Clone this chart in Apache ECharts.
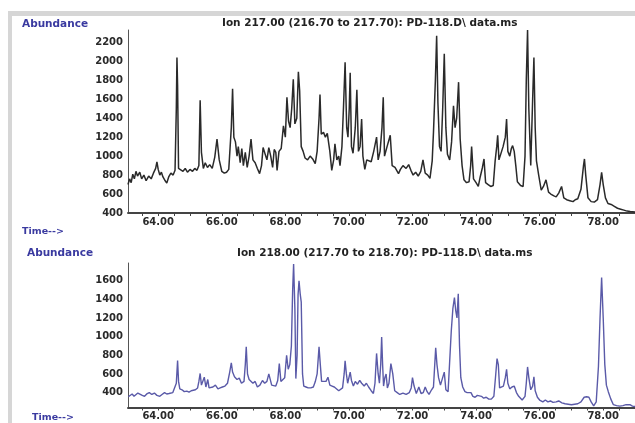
<!DOCTYPE html>
<html>
<head>
<meta charset="utf-8">
<script src="https://cdn.jsdelivr.net/npm/echarts@6/dist/echarts.min.js"></script>
<style>html,body{margin:0;padding:0;background:#fff}#c{width:635px;height:423px}</style>
</head>
<body>
<div id="c"></div>
<script>
// ---- Data ----
var topTitle = "Ion 217.00 (216.70 to 217.70): PD-118.D\\ data.ms";
var bottomTitle = "Ion 218.00 (217.70 to 218.70): PD-118.D\\ data.ms";
var xLabels = [64, 66, 68, 70, 72, 74, 76, 78];
var xTicks = [63.5,64,64.5,65,65.5,66,66.5,67,67.5,68,68.5,69,69.5,70,70.5,71,71.5,72,72.5,73,73.5,74,74.5,75,75.5,76,76.5,77,77.5,78,78.5];
var yLabelsTop = [400, 600, 800, 1000, 1200, 1400, 1600, 1800, 2000, 2200];
var yLabelsBottom = [400, 600, 800, 1000, 1200, 1400, 1600];

var timeTop = [63.05,63.10,63.15,63.20,63.25,63.30,63.35,63.42,63.48,63.55,63.62,63.70,63.78,63.85,63.92,63.96,64.00,64.05,64.10,64.15,64.22,64.27,64.33,64.40,64.47,64.53,64.57,64.59,64.61,64.64,64.70,64.78,64.85,64.92,65.00,65.08,65.15,65.22,65.28,65.32,65.36,65.42,65.48,65.55,65.62,65.70,65.78,65.85,65.92,66.00,66.08,66.15,66.22,66.30,66.34,66.38,66.43,66.48,66.52,66.58,66.63,66.68,66.74,66.80,66.86,66.92,66.98,67.05,67.12,67.19,67.25,67.30,67.36,67.42,67.48,67.54,67.60,67.65,67.70,67.74,67.80,67.87,67.94,68.00,68.05,68.10,68.15,68.20,68.25,68.30,68.36,68.41,68.45,68.50,68.56,68.62,68.70,68.78,68.86,68.94,69.00,69.06,69.09,69.13,69.20,69.26,69.32,69.40,69.46,69.52,69.56,69.62,69.68,69.72,69.78,69.83,69.88,69.93,69.97,70.01,70.04,70.08,70.13,70.20,70.25,70.30,70.35,70.40,70.44,70.50,70.56,70.62,70.70,70.78,70.87,70.92,70.98,71.04,71.08,71.12,71.20,71.30,71.36,71.45,71.56,71.62,71.70,71.80,71.88,71.95,72.02,72.10,72.18,72.26,72.33,72.40,72.48,72.55,72.62,72.66,72.72,72.76,72.80,72.85,72.90,72.95,73.00,73.05,73.10,73.17,73.23,73.29,73.34,73.39,73.45,73.50,73.56,73.62,73.70,73.78,73.83,73.86,73.92,74.00,74.07,74.13,74.20,74.25,74.30,74.38,74.46,74.54,74.60,74.65,74.68,74.72,74.78,74.85,74.92,74.96,75.00,75.06,75.11,75.15,75.20,75.25,75.30,75.40,75.48,75.54,75.58,75.62,75.66,75.72,75.78,75.82,75.86,75.90,75.97,76.05,76.12,76.20,76.28,76.35,76.45,76.52,76.60,76.69,76.76,76.85,76.95,77.05,77.12,77.20,77.30,77.38,77.41,77.45,77.52,77.62,77.72,77.82,77.90,77.95,78.00,78.07,78.15,78.25,78.35,78.45,78.55,78.65,78.75,78.85,79.00];
var abundTop = [700,760,720,810,760,840,790,830,760,800,740,790,760,820,870,940,860,800,830,780,740,715,780,820,800,850,1500,2040,1750,870,860,840,870,830,860,840,870,850,900,1590,1040,870,930,880,910,870,990,1180,960,840,820,830,860,1300,1710,1200,1150,1000,1100,930,1080,900,1040,880,1000,1180,960,930,870,815,900,1090,1100,960,1090,1000,880,1070,1040,850,1050,1080,1320,1200,1620,1370,1300,1500,1810,1340,1400,1890,1690,1100,1050,980,960,1000,970,920,1050,1400,1650,1230,1250,1200,1240,1050,850,960,1130,960,1000,900,1100,1520,1990,1300,1200,1500,1880,1100,1030,1300,1700,1050,1100,1390,1000,860,960,980,940,1050,1200,960,1050,1300,1620,1000,1100,1220,900,880,815,860,900,870,910,850,800,830,790,840,960,820,800,765,950,1250,1800,2270,1560,1100,1050,1500,2080,1300,1020,960,1150,1530,1300,1400,1780,1180,900,750,720,730,900,1100,760,720,680,780,880,970,720,700,680,690,950,1100,1220,960,980,1100,1200,1390,1050,1000,1080,1110,1050,900,730,690,680,1000,1800,2330,1500,900,1600,2040,1300,950,800,640,680,750,620,600,580,570,610,680,560,540,530,520,540,550,650,900,970,800,560,520,515,540,700,830,700,560,500,490,470,450,440,430,420,415,410];

var timeBottom = [63.06,63.12,63.18,63.24,63.30,63.36,63.42,63.50,63.57,63.64,63.72,63.80,63.88,63.96,64.05,64.12,64.20,64.27,64.34,64.40,64.46,64.52,64.57,64.61,64.64,64.68,64.75,64.82,64.90,64.97,65.04,65.10,65.17,65.24,65.28,65.32,65.36,65.40,65.45,65.50,65.56,65.60,65.66,65.72,65.80,65.88,65.95,66.02,66.10,66.18,66.25,66.30,66.34,66.40,66.48,66.55,66.62,66.70,66.74,66.77,66.81,66.86,66.92,66.98,67.05,67.12,67.20,67.28,67.35,67.42,67.48,67.52,67.57,67.62,67.70,67.76,67.81,67.86,67.92,67.98,68.04,68.09,68.14,68.19,68.23,68.26,68.30,68.33,68.37,68.40,68.43,68.47,68.50,68.54,68.58,68.65,68.72,68.80,68.88,68.94,69.00,69.06,69.10,69.14,69.20,69.28,69.34,69.40,69.47,69.54,69.60,69.68,69.74,69.80,69.85,69.88,69.92,69.96,70.00,70.04,70.08,70.14,70.20,70.27,70.34,70.40,70.48,70.55,70.62,70.70,70.77,70.82,70.87,70.92,70.96,71.00,71.03,71.06,71.09,71.13,71.17,71.21,71.26,71.32,71.38,71.44,71.52,71.60,71.70,71.80,71.90,71.96,72.00,72.05,72.12,72.20,72.27,72.34,72.40,72.46,72.52,72.60,72.66,72.70,72.73,72.77,72.82,72.88,72.94,73.00,73.05,73.12,73.17,73.22,73.27,73.32,73.36,73.40,73.44,73.48,73.52,73.58,73.65,73.72,73.78,73.84,73.90,73.97,74.04,74.10,74.17,74.24,74.32,74.40,74.48,74.56,74.62,74.66,74.70,74.74,74.80,74.86,74.92,74.96,75.00,75.06,75.13,75.20,75.27,75.34,75.45,75.54,75.58,75.62,75.66,75.72,75.78,75.82,75.86,75.93,76.00,76.10,76.18,76.26,76.34,76.42,76.52,76.60,76.70,76.80,76.90,77.00,77.10,77.20,77.30,77.40,77.48,77.55,77.62,77.70,77.78,77.85,77.90,77.95,78.00,78.05,78.10,78.16,78.24,78.32,78.42,78.52,78.62,78.72,78.78,78.84,78.92,79.00];
var abundBottom = [355,370,385,360,370,395,375,370,360,385,400,380,395,370,360,380,400,385,390,380,400,420,500,745,520,440,430,410,415,405,420,400,430,450,520,605,480,500,565,460,540,450,470,460,480,440,450,460,470,500,620,720,620,570,540,555,500,520,700,890,600,540,560,500,520,460,480,530,500,520,600,600,480,500,470,530,710,520,500,560,800,650,700,900,1500,1780,1300,550,800,1450,1600,1450,1370,600,470,460,450,450,460,515,600,890,700,520,540,520,565,480,470,460,450,420,430,450,600,740,600,500,520,620,530,470,520,490,530,500,470,500,460,420,390,500,820,600,500,700,995,700,470,560,600,450,500,710,600,420,400,380,395,380,400,450,560,470,390,460,390,400,460,410,380,430,460,700,880,700,560,480,500,620,430,410,420,1060,1300,1420,1280,1200,1460,900,560,460,410,400,380,400,360,350,370,390,360,340,350,330,330,360,600,765,700,450,440,470,560,650,500,440,460,470,400,360,320,360,500,675,560,430,470,570,420,350,320,300,320,300,310,295,300,310,290,280,275,270,275,280,300,350,355,350,300,257,300,680,1200,1635,1200,700,480,410,330,270,260,255,260,270,290,270,255,250];

function pairs(t, v) { var out = []; for (var i = 0; i < t.length; i++) out.push([t[i], v[i]]); return out; }

var tickFont = { fontFamily: 'DejaVu Sans', fontSize: 10, fontWeight: 'bold', color: '#2a2a2a' };

function xAxisCfg(gridIndex) {
  return {
    type: 'value', gridIndex: gridIndex, min: 63.05, max: 79.0,
    axisLine: { show: true, onZero: false, lineStyle: { color: '#444', width: 2 } },
    axisTick: { show: true, length: 3, customValues: xTicks, lineStyle: { color: '#444', width: 1 } },
    axisLabel: Object.assign({ customValues: xLabels, margin: 4, formatter: function (v) { return v.toFixed(2); } }, tickFont),
    splitLine: { show: false }
  };
}
function yAxisCfg(gridIndex, min, max, labels) {
  return {
    type: 'value', gridIndex: gridIndex, min: min, max: max,
    axisLine: { show: true, lineStyle: { color: '#555', width: 1 } },
    axisTick: { show: false },
    axisLabel: Object.assign({ customValues: labels, margin: 5, formatter: function (v) { return String(v); } }, tickFont),
    splitLine: { show: false }
  };
}

var chart = echarts.init(document.getElementById('c'), null, { renderer: 'canvas' });
var labelColor = '#3a3aa0';
chart.setOption({
  animation: false,
  backgroundColor: '#fff',
  grid: [
    { left: 128, right: 0, top: 30, bottom: 210 },
    { left: 128, right: 0, top: 263, bottom: 15.5 }
  ],
  xAxis: [xAxisCfg(0), xAxisCfg(1)],
  yAxis: [yAxisCfg(0, 400, 2330, yLabelsTop), yAxisCfg(1, 240, 1790, yLabelsBottom)],
  series: [
    { type: 'line', xAxisIndex: 0, yAxisIndex: 0, data: pairs(timeTop, abundTop), showSymbol: false, sampling: 'none',
      lineStyle: { color: '#2a2a2a', width: 1.5 } },
    { type: 'line', xAxisIndex: 1, yAxisIndex: 1, data: pairs(timeBottom, abundBottom), showSymbol: false, sampling: 'none',
      lineStyle: { color: '#5a5aa8', width: 1.4 } }
  ],
  graphic: [
    { type: 'rect', shape: { x: 8, y: 11, width: 627, height: 5 }, style: { fill: '#d6d6d6' }, silent: true },
    { type: 'rect', shape: { x: 8, y: 11, width: 4, height: 412 }, style: { fill: '#d6d6d6' }, silent: true },
    { type: 'text', x: 22, y: 24, style: { text: 'Abundance', fill: labelColor, font: 'bold 10.5px "DejaVu Sans"', verticalAlign: 'middle' } },
    { type: 'text', x: 222, y: 23, style: { text: topTitle, fill: '#222', font: 'bold 10.5px "DejaVu Sans"', verticalAlign: 'middle' } },
    { type: 'text', x: 22, y: 232, style: { text: 'Time-->', fill: labelColor, font: 'bold 9.5px "DejaVu Sans"', verticalAlign: 'middle' } },
    { type: 'text', x: 27, y: 253, style: { text: 'Abundance', fill: labelColor, font: 'bold 10.5px "DejaVu Sans"', verticalAlign: 'middle' } },
    { type: 'text', x: 237, y: 253, style: { text: bottomTitle, fill: '#222', font: 'bold 10.5px "DejaVu Sans"', verticalAlign: 'middle' } },
    { type: 'text', x: 32, y: 418, style: { text: 'Time-->', fill: labelColor, font: 'bold 9.5px "DejaVu Sans"', verticalAlign: 'middle' } }
  ]
});
</script>
</body>
</html>
